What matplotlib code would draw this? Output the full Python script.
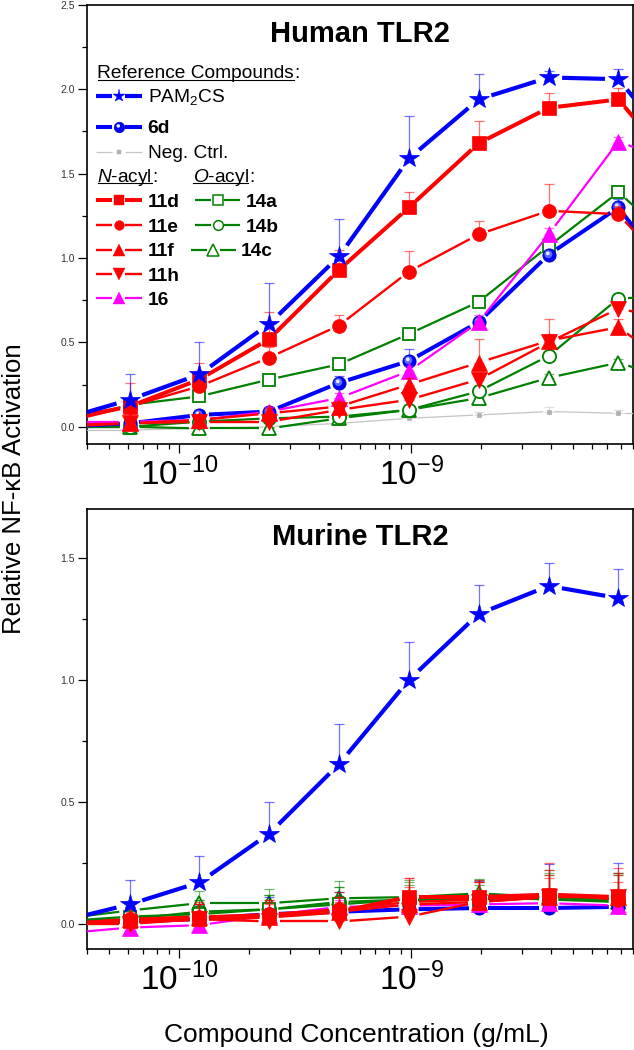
import numpy as np
import matplotlib.pyplot as plt
from matplotlib.markers import MarkerStyle
from matplotlib.transforms import Affine2D, IdentityTransform
from matplotlib.lines import Line2D
from matplotlib.ticker import (LogLocator, NullFormatter, MultipleLocator, FormatStrFormatter,
                               FixedLocator, LogFormatterSciNotation)

plt.rcParams['font.family'] = ['Liberation Sans', 'DejaVu Sans']
plt.rcParams['mathtext.fontset'] = 'custom'
plt.rcParams['mathtext.rm'] = 'Liberation Sans'
plt.rcParams['mathtext.it'] = 'Liberation Sans:italic'
plt.rcParams['mathtext.bf'] = 'Liberation Sans:bold'
plt.rcParams['axes.unicode_minus'] = False

# 2-fold dilutions in g/mL (first and last lie just outside the plotted range)
conc = [3.05e-11, 6.10e-11, 1.22e-10, 2.44e-10, 4.88e-10, 9.77e-10, 1.95e-9, 3.91e-9, 7.81e-9, 1.56e-8]
decade_ticks = [1e-10, 1e-9]

# ---- Human TLR2: mean and upper error ----
h_pam2cs = [0.04, 0.16, 0.31, 0.61, 1.01, 1.59, 1.94, 2.07, 2.06, 1.56]
h_pam2cs_err = [0.05, 0.15, 0.19, 0.24, 0.22, 0.25, 0.15, 0.04, 0.06, 0.05]
h_6d = [0.00, 0.02, 0.07, 0.09, 0.26, 0.39, 0.62, 1.02, 1.30, 0.76]
h_6d_err = [0.01, 0.02, 0.03, 0.03, 0.04, 0.07, 0.03, 0.03, 0.05, 0.05]
h_neg = [-0.02, -0.02, -0.01, 0.00, 0.02, 0.05, 0.07, 0.09, 0.08, 0.08]
h_neg_err = [0.01, 0.01, 0.01, 0.01, 0.01, 0.01, 0.02, 0.03, 0.02, 0.02]
h_11d = [0.04, 0.12, 0.28, 0.52, 0.93, 1.30, 1.68, 1.89, 1.94, 1.45]
h_11d_err = [0.02, 0.04, 0.05, 0.16, 0.12, 0.09, 0.13, 0.09, 0.07, 0.05]
h_11e = [0.02, 0.12, 0.24, 0.41, 0.60, 0.92, 1.14, 1.28, 1.26, 0.81]
h_11e_err = [0.02, 0.14, 0.14, 0.06, 0.06, 0.12, 0.08, 0.16, 0.05, 0.05]
h_11f = [0.01, 0.02, 0.04, 0.08, 0.12, 0.25, 0.38, 0.51, 0.59, 0.29]
h_11f_err = [0.01, 0.02, 0.02, 0.03, 0.03, 0.04, 0.14, 0.13, 0.05, 0.05]
h_11h = [0.00, 0.02, 0.03, 0.03, 0.10, 0.16, 0.28, 0.50, 0.70, 0.62]
h_11h_err = [0.01, 0.02, 0.02, 0.02, 0.03, 0.03, 0.04, 0.05, 0.04, 0.04]
h_16 = [0.03, 0.03, 0.04, 0.09, 0.17, 0.33, 0.62, 1.14, 1.69, 1.54]
h_16_err = [0.01, 0.02, 0.02, 0.03, 0.03, 0.03, 0.04, 0.04, 0.03, 0.03]
h_14a = [0.02, 0.13, 0.18, 0.28, 0.37, 0.55, 0.74, 1.07, 1.39, 1.02]
h_14a_err = [0.01, 0.02, 0.02, 0.02, 0.02, 0.03, 0.04, 0.03, 0.02, 0.02]
h_14b = [0.00, 0.00, 0.03, 0.05, 0.06, 0.10, 0.21, 0.42, 0.76, 0.78]
h_14b_err = [0.01, 0.01, 0.01, 0.01, 0.02, 0.02, 0.02, 0.03, 0.03, 0.03]
h_14c = [0.00, 0.00, -0.01, -0.01, 0.05, 0.10, 0.17, 0.29, 0.38, 0.25]
h_14c_err = [0.01, 0.01, 0.01, 0.01, 0.01, 0.02, 0.02, 0.02, 0.02, 0.02]

# ---- Murine TLR2 (first 9 concentrations) ----
m_pam2cs = [0.01, 0.08, 0.17, 0.37, 0.655, 1.00, 1.27, 1.385, 1.335]
m_pam2cs_err = [0.05, 0.10, 0.11, 0.13, 0.165, 0.155, 0.12, 0.095, 0.12]
m_6d = [0.00, 0.01, 0.02, 0.04, 0.05, 0.06, 0.065, 0.065, 0.07]
m_6d_err = [0.02, 0.08, 0.06, 0.07, 0.08, 0.06, 0.11, 0.18, 0.18]
m_11d = [0.00, 0.01, 0.02, 0.03, 0.05, 0.11, 0.11, 0.12, 0.11]
m_11d_err = [0.02, 0.05, 0.06, 0.07, 0.06, 0.08, 0.07, 0.13, 0.10]
m_11e = [0.00, 0.02, 0.03, 0.04, 0.06, 0.09, 0.10, 0.12, 0.10]
m_11e_err = [0.02, 0.05, 0.06, 0.06, 0.07, 0.10, 0.07, 0.10, 0.13]
m_11f = [0.00, 0.02, 0.03, 0.03, 0.05, 0.08, 0.09, 0.11, 0.11]
m_11f_err = [0.02, 0.04, 0.05, 0.06, 0.06, 0.07, 0.08, 0.08, 0.06]
m_11h = [0.00, 0.00, 0.02, 0.01, 0.01, 0.03, 0.09, 0.11, 0.11]
m_11h_err = [0.02, 0.05, 0.06, 0.07, 0.08, 0.09, 0.08, 0.09, 0.09]
m_16 = [-0.04, -0.015, -0.005, 0.035, 0.07, 0.075, 0.08, 0.085, 0.075]
m_16_err = [0.02, 0.02, 0.02, 0.03, 0.03, 0.03, 0.03, 0.03, 0.03]
m_14a = [0.01, 0.03, 0.04, 0.06, 0.08, 0.10, 0.10, 0.11, 0.10]
m_14a_err = [0.02, 0.05, 0.06, 0.06, 0.07, 0.06, 0.06, 0.09, 0.11]
m_14b = [0.01, 0.02, 0.05, 0.06, 0.09, 0.10, 0.11, 0.10, 0.09]
m_14b_err = [0.02, 0.05, 0.05, 0.06, 0.06, 0.07, 0.07, 0.12, 0.12]
m_14c = [0.02, 0.055, 0.085, 0.085, 0.105, 0.11, 0.125, 0.11, 0.09]
m_14c_err = [0.02, 0.04, 0.05, 0.06, 0.07, 0.07, 0.06, 0.10, 0.11]

BLUE, RED, GREEN, MAG, GRAY = '#0000ff', '#ff0000', '#008000', '#ff00ff', '#c4c4c4'

styles = {
    'neg':    dict(color=GRAY, marker='s', ms=3.5, lw=0.9, open=False, mcol='#b0b0b0'),
    '14c':    dict(color=GREEN, marker='^', ms=10.5, lw=1.6, open=True),
    '14b':    dict(color=GREEN, marker='o', ms=9.5, lw=1.6, open=True),
    '14a':    dict(color=GREEN, marker='s', ms=9, lw=1.6, open=True),
    '6d':     dict(color=BLUE, marker='o', ms=9.5, lw=2.9, open=False, ball=True),
    '16':     dict(color=MAG, marker='^', ms=11, lw=1.6, open=False),
    '11h':    dict(color=RED, marker='v', ms=11, lw=1.7, open=False),
    '11f':    dict(color=RED, marker='^', ms=11, lw=1.7, open=False),
    '11e':    dict(color=RED, marker='o', ms=10, lw=1.7, open=False),
    '11d':    dict(color=RED, marker='s', ms=9.5, lw=2.9, open=False),
    'PAM2CS': dict(color=BLUE, marker='*', ms=15, lw=3.0, open=False),
}

human = [('neg', h_neg, h_neg_err), ('14c', h_14c, h_14c_err), ('14b', h_14b, h_14b_err),
         ('14a', h_14a, h_14a_err), ('6d', h_6d, h_6d_err), ('16', h_16, h_16_err),
         ('11h', h_11h, h_11h_err), ('11f', h_11f, h_11f_err), ('11e', h_11e, h_11e_err),
         ('11d', h_11d, h_11d_err), ('PAM2CS', h_pam2cs, h_pam2cs_err)]
murine = [('14c', m_14c, m_14c_err), ('14b', m_14b, m_14b_err), ('14a', m_14a, m_14a_err),
          ('6d', m_6d, m_6d_err), ('16', m_16, m_16_err), ('11h', m_11h, m_11h_err),
          ('11f', m_11f, m_11f_err), ('11e', m_11e, m_11e_err), ('11d', m_11d, m_11d_err),
          ('PAM2CS', m_pam2cs, m_pam2cs_err)]

W, H = 634, 1050
fig = plt.figure(figsize=(W / 100, H / 100), dpi=100)
# reference-pixel transform (origin top-left) for legend / labels
px = Affine2D().scale(1 / W, -1 / H).translate(0, 1) + fig.transFigure

ax1 = fig.add_axes([0.1372, 0.5767, 0.8607, 0.4186])
ax2 = fig.add_axes([0.1372, 0.0959, 0.8607, 0.4193])


def setup(ax, ylim):
    ax.set_xscale('log')
    ax.set_xlim(4e-11, 9e-9)
    ax.set_ylim(*ylim)
    ax.yaxis.set_major_locator(MultipleLocator(0.5))
    ax.yaxis.set_minor_locator(MultipleLocator(0.25))
    ax.yaxis.set_major_formatter(FormatStrFormatter('%.1f'))
    ax.xaxis.set_major_locator(FixedLocator(decade_ticks))
    ax.xaxis.set_major_formatter(LogFormatterSciNotation())
    ax.xaxis.set_minor_locator(LogLocator(base=10, subs=np.arange(2, 10)))
    ax.xaxis.set_minor_formatter(NullFormatter())
    ax.tick_params(which='both', direction='out', top=False, right=False, width=0.9)
    ax.tick_params(which='major', length=6.5)
    ax.tick_params(which='minor', length=3.3)
    ax.tick_params(axis='y', labelsize=7.5, labelcolor='#333333', pad=2)
    ax.tick_params(axis='x', labelsize=24, pad=3)
    for s in ax.spines.values():
        s.set_linewidth(1.2)


def gapped_line(ax, x, y, gap, **kw):
    # Origin style: segments stop short of the symbols
    pts = ax.transData.transform(np.column_stack([x, y]))
    inv = ax.transData.inverted()
    for p, q in zip(pts[:-1], pts[1:]):
        d = q - p
        L = np.hypot(d[0], d[1])
        if L <= 2 * gap:
            continue
        u = d / L
        seg = inv.transform([p + u * gap, q - u * gap])
        ax.plot(seg[:, 0], seg[:, 1], solid_capstyle='butt', **kw)


def ball(ax, x, y, ms, z, **kw):
    ax.plot(x, y, ls='none', marker='o', ms=ms, mfc=BLUE, mec='#0000b0', mew=0.6, zorder=z, **kw)
    hi1 = MarkerStyle('o', transform=Affine2D().scale(0.6).translate(-0.09, 0.1))
    hi2 = MarkerStyle('o', transform=Affine2D().scale(0.28).translate(-0.13, 0.16))
    ax.plot(x, y, ls='none', marker=hi1, ms=ms, mfc='#5a6cff', mew=0, zorder=z + 0.001, **kw)
    ax.plot(x, y, ls='none', marker=hi2, ms=ms, mfc='#e8ecff', mew=0, zorder=z + 0.002, **kw)


def draw_series(ax, x, y, err, st, z):
    c = st['color']
    ax.errorbar(x, y, yerr=[np.zeros(len(err)), err], fmt='none', ecolor=c, alpha=0.55,
                elinewidth=0.9, capsize=3.6, capthick=0.9, zorder=z)
    gap = st['ms'] * 100 / 72 / 2 + 3
    gapped_line(ax, x, y, gap, color=c, lw=st['lw'], zorder=z + 0.01)
    if st.get('ball'):
        ball(ax, x, y, st['ms'], z + 0.02)
    elif st['open']:
        ax.plot(x, y, ls='none', marker=st['marker'], ms=st['ms'], mfc='white', mec=c,
                mew=1.3, zorder=z + 0.02)
    else:
        mc = st.get('mcol', c)
        ax.plot(x, y, ls='none', marker=st['marker'], ms=st['ms'], mfc=mc, mec=mc,
                mew=0.5, zorder=z + 0.02)


setup(ax1, (-0.105, 2.5))
setup(ax2, (-0.104, 1.70))

for i, (key, vals, err) in enumerate(human):
    draw_series(ax1, conc, vals, err, styles[key], 3 + i * 0.1)
for i, (key, vals, err) in enumerate(murine):
    draw_series(ax2, conc[:len(vals)], vals, err, styles[key], 3 + i * 0.1)

# titles
fig.text(360, 41.7, 'Human TLR2', transform=px, ha='center', va='baseline',
         fontsize=21, fontweight='bold')
fig.text(360, 545, 'Murine TLR2', transform=px, ha='center', va='baseline',
         fontsize=21, fontweight='bold')

# axis titles
fig.text(14, 489, 'Relative NF-\u03baB Activation', transform=px, rotation=90,
         ha='center', va='center', fontsize=18.5)
fig.text(356, 1035, 'Compound Concentration (g/mL)', transform=px,
         ha='center', va='center', fontsize=19)

# ---- hand-built legend ----
LEG_FS = 13.8
leg_ms = {'PAM2CS': 9.5, '6d': 7.5, 'neg': 3.5, '11d': 6.5, '11e': 7, '11f': 8, '11h': 8,
          '16': 8, '14a': 6.5, '14b': 7, '14c': 8}


def legend_row(key, label, y, x0, x1, xt, bold=True):
    st = styles[key]
    xm = (x0 + x1) / 2
    g = 6.5
    for a, b in ((x0, xm - g), (xm + g, x1)):
        fig.add_artist(Line2D([a, b], [y, y], transform=px, color=st['color'], lw=st['lw'],
                              solid_capstyle='butt'))
    ms = leg_ms[key]
    if st.get('ball'):
        fig.add_artist(Line2D([xm], [y], transform=px, ls='none', marker='o', ms=ms,
                              mfc=BLUE, mec='#0000b0', mew=0.5))
        fig.add_artist(Line2D([xm], [y], transform=px, ls='none', ms=ms, mew=0, mfc='#e8ecff',
                              marker=MarkerStyle('o', transform=Affine2D().scale(0.35).translate(-0.12, 0.15))))
    elif st['open']:
        fig.add_artist(Line2D([xm], [y], transform=px, ls='none', marker=st['marker'], ms=ms,
                              mfc='white', mec=st['color'], mew=1.1))
    else:
        mc = st.get('mcol', st['color'])
        fig.add_artist(Line2D([xm], [y], transform=px, ls='none', marker=st['marker'], ms=ms,
                              mfc=mc, mec=mc, mew=0.3))
    fig.text(xt, y + 6.7, label, transform=px, ha='left', va='baseline', fontsize=LEG_FS,
             fontweight='bold' if bold else 'normal')


t_ref = fig.text(97.3, 78.3, 'Reference Compounds', transform=px, ha='left', va='baseline',
                 fontsize=LEG_FS)
t_n = fig.text(97.3, 181.5, r'$\mathit{N}$-acyl', transform=px, ha='left', va='baseline',
               fontsize=LEG_FS)
t_o = fig.text(192.7, 181.5, r'$\mathit{O}$-acyl', transform=px, ha='left', va='baseline',
               fontsize=LEG_FS)

legend_row('PAM2CS', r'PAM$_2$CS', 95.7, 95.7, 141.7, 147.7, bold=False)
legend_row('6d', '6d', 126.7, 95.7, 141.7, 147.7)
legend_row('neg', 'Neg. Ctrl.', 151.7, 95.7, 141.7, 147.7, bold=False)
for key, y in (('11d', 200), ('11e', 225), ('11f', 249.5), ('11h', 274), ('16', 298)):
    legend_row(key, key, y, 95.7, 141.7, 147.7)
legend_row('14a', '14a', 200, 195, 240, 245.7)
legend_row('14b', '14b', 225, 195, 240, 245.7)
legend_row('14c', '14c', 249.5, 190.5, 235.5, 241.2)

# underlines and trailing colons
fig.canvas.draw()
for t, base in ((t_ref, 78.3), (t_n, 181.5), (t_o, 181.5)):
    bb = t.get_window_extent()
    ybase = px.transform((0, base + 1.8))[1]
    fig.add_artist(Line2D([bb.x0 + 0.5, bb.x1 - 0.5], [ybase, ybase], transform=IdentityTransform(),
                          color='black', lw=0.8))
    xcol_ref = px.inverted().transform((bb.x1 + 0.5, 0))[0]
    fig.text(xcol_ref, base, ':', transform=px, ha='left', va='baseline', fontsize=LEG_FS)

fig.savefig('out.png', dpi=100)
